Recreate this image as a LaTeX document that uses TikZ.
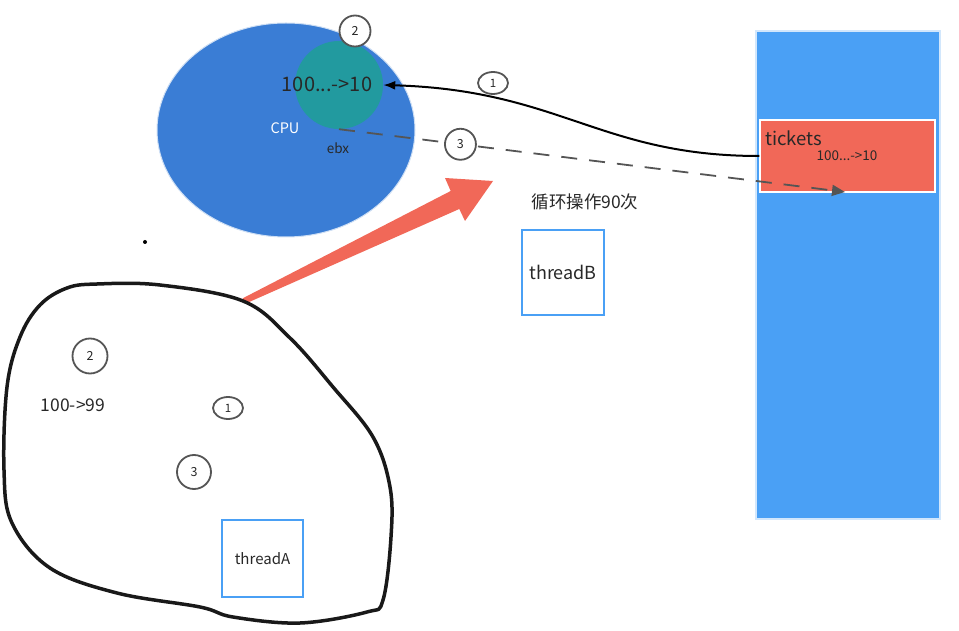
\documentclass[tikz,border=0pt]{standalone}
\usepackage{fontspec}
\setmainfont{Noto Sans CJK SC}
\usetikzlibrary{arrows.meta,shapes.geometric}
\definecolor{cpublue}{RGB}{58,125,213}
\definecolor{regteal}{RGB}{34,154,159}
\definecolor{memblue}{RGB}{74,160,245}
\definecolor{tickred}{RGB}{241,104,88}
\definecolor{numgray}{RGB}{85,85,85}
\definecolor{txtgray}{RGB}{40,40,40}
\newcommand{\fsz}[1]{\fontsize{#1}{#1}\selectfont}
\tikzset{
  num/.style={circle,draw=numgray,fill=white,line width=1.8pt,minimum size=31pt,inner sep=0pt,font=\fsz{12.5},text=txtgray},
  numflat/.style={ellipse,draw=numgray,fill=white,line width=1.8pt,minimum width=30pt,minimum height=22pt,inner sep=0pt,font=\fsz{11.5},text=txtgray},
  threadbox/.style={draw=memblue,line width=1.8pt,fill=white,inner sep=0pt,text=txtgray},
  lbl/.style={inner sep=0pt,text=txtgray}
}

\begin{document}
\begin{tikzpicture}[x=1pt,y=-1pt]
\useasboundingbox (0,0) rectangle (959,631);

\node[ellipse,fill=cpublue,draw=cpublue!25,line width=1pt,minimum width=258pt,minimum height=214pt] (cpu) at (286,130) {};
\node[lbl,text=white,font=\fsz{14.5}] (cpulbl) at (285,128) {CPU};
\node[circle,fill=regteal,minimum size=88pt,inner sep=0pt] (ebx) at (339,85) {};
\node[lbl,font=\fsz{20}] (ebxval) at (327,84) {100...->10};
\node[lbl,font=\fsz{13.5}] (ebxlbl) at (338,148) {ebx};
\node[num] (cputwo) at (355,31) {2};

\node[fill=memblue,draw=memblue!25,line width=1.5pt,minimum width=184pt,minimum height=488pt,inner sep=0pt] (mem) at (848,275) {};
\node[fill=tickred,draw=white,line width=1.5pt,minimum width=175pt,minimum height=72pt,inner sep=0pt] (tickbox) at (847.5,156) {};
\node[lbl,anchor=west,font=\fsz{18.5}] (ticklbl) at (765,138) {tickets};
\node[lbl,font=\fsz{13.5}] (tickval) at (847,156) {100...->10};
\coordinate (tickend) at (845,192);

\draw[-{Latex[length=12pt,width=9pt]},line width=2pt] (tickbox.west) .. controls (600,156) and (560,90) .. (ebx.east);
\node[numflat] (stepone) at (493,83) {1};
\draw[line width=1.8pt,draw=numgray,dash pattern=on 16pt off 12pt,-{Triangle[length=13pt,width=11pt]}] (ebx.south) -- (tickend) node[num,pos=0.24,solid] (stepthree) {3};

\fill[tickred] (242.7,298.3) -- (450.7,191) -- (445,178) -- (493,181) -- (465,221) -- (459.3,209) -- (245.3,303.7) -- cycle;

\node[lbl,font=\fsz{17.5}] (loop) at (585,202) {循环操作90次};
\node[threadbox,minimum width=82pt,minimum height=85pt,font=\fsz{18}] (threadB) at (563,272.5) {threadB};

\fill (145,242) circle (2pt);

\draw[line width=3.5pt,black!90] plot[smooth cycle,tension=0.6] coordinates {(97,284) (160,285) (243,301) (290,338) (333,387) (373,437) (390,487) (391,537) (383,600) (367,612) (300,623) (233,617) (200,607) (117,593) (50,568) (12,523) (4,470) (7,387) (20,337) (40,305) (67,288)};
\node[num,minimum width=32pt,minimum height=35pt] (blobtwo) at (90,356) {2};
\node[lbl,font=\fsz{17.5}] (blobval) at (73,405) {100->99};
\node[numflat] (blobone) at (228,408) {1};
\node[num,minimum size=34pt] (blobthree) at (194,472) {3};
\node[threadbox,minimum width=81pt,minimum height=77pt,font=\fsz{15}] (threadA) at (262.5,558.5) {threadA};

\end{tikzpicture}
\end{document}
